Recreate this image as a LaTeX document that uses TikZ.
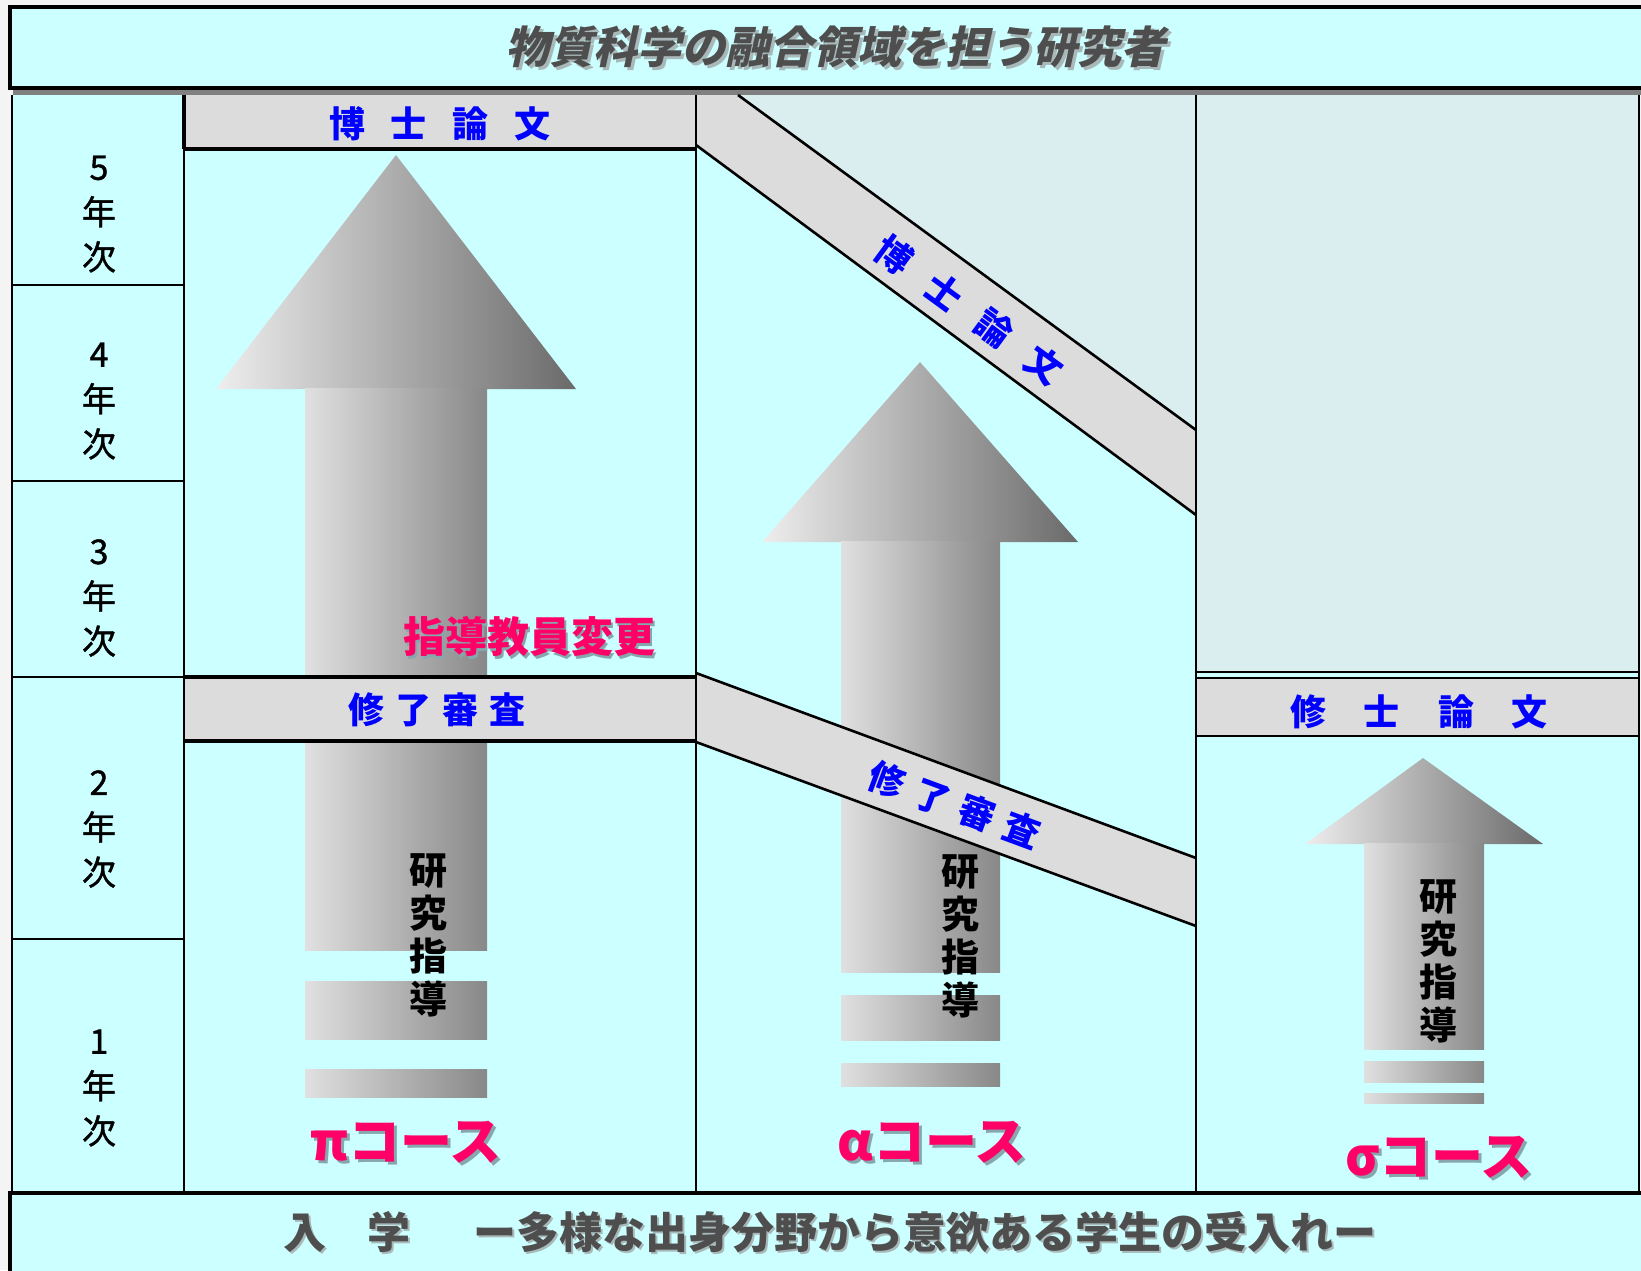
\documentclass[tikz,border=0pt]{standalone}
\usepackage{fontspec}
\newfontfamily\jp{Noto Sans CJK JP}
\newfontfamily\jpm{Noto Sans CJK JP}[FakeBold=1.2]
\newfontfamily\jpsl{Noto Sans CJK JP}[FakeSlant=0.22]
\definecolor{pagebg}{HTML}{F4F4F4}
\definecolor{cy}{HTML}{CCFFFF}
\definecolor{gcy}{HTML}{DAEDEF}
\definecolor{bandgray}{HTML}{DCDCDC}
\definecolor{pinktext}{HTML}{FF0066}
\definecolor{pinkshadow}{HTML}{86A7AE}
\definecolor{titlegray}{HTML}{4E4E4E}
\definecolor{titleshadow}{HTML}{A9B9BA}
\definecolor{bluetext}{HTML}{0000FF}
\definecolor{shadowband}{HTML}{808080}
\definecolor{headL}{HTML}{EEEEEE}
\definecolor{headR}{HTML}{6A6A6A}
\definecolor{shaftL}{HTML}{E0E0E0}
\definecolor{shaftR}{HTML}{888888}
\tikzset{
  frameline/.style={line width=2.6pt, draw=black},
  thickline/.style={line width=3.6pt, draw=black},
  headshade/.style={left color=headL, right color=headR},
  shaftshade/.style={left color=shaftL, right color=shaftR},
  yearlabel/.style={font=\jpm\fontsize{34}{45}\selectfont, align=center, inner sep=0pt, text=black},
  bluelabel/.style={font=\jp\bfseries\fontsize{36}{40}\selectfont, inner sep=0pt, text=bluetext},
  guidelabel/.style={font=\jp\bfseries\fontsize{38}{43}\selectfont, align=center, inner sep=0pt, text=black},
  pinklabel/.style={font=\jp\bfseries\fontsize{42}{46}\selectfont, inner sep=0pt, text=pinktext},
  pinkshadowlabel/.style={font=\jp\bfseries\fontsize{42}{46}\selectfont, inner sep=0pt, text=pinkshadow},
  courselabel/.style={font=\jp\bfseries\fontsize{52}{56}\selectfont, inner sep=0pt, text=pinktext},
  courseshadow/.style={font=\jp\bfseries\fontsize{52}{56}\selectfont, inner sep=0pt, text=pinkshadow},
  titlelabel/.style={font=\jpsl\bfseries\fontsize{44}{48}\selectfont, inner sep=0pt, text=titlegray},
  titleshadowlabel/.style={font=\jpsl\bfseries\fontsize{44}{48}\selectfont, inner sep=0pt, text=titleshadow},
  bottomlabel/.style={font=\jp\bfseries\fontsize{43}{47}\selectfont, inner sep=0pt, text=titlegray},
  bottomshadow/.style={font=\jp\bfseries\fontsize{43}{47}\selectfont, inner sep=0pt, text=titleshadow},
}
\begin{document}
\begin{tikzpicture}[x=1pt,y=-1pt]
\useasboundingbox (0,0) rectangle (1641,1270);
\fill[pagebg] (0,0) rectangle (1641,1270);

% title box
\fill[cy] (10,7) rectangle (1645,88);
\draw[thickline] (1645,7) -- (10,7) -- (10,88) -- (1645,88);
\fill[shadowband] (13,89.8) rectangle (1641,95);

% main area backgrounds
\fill[cy] (12,95) rectangle (1639,1193);
\fill[gcy] (738,95) -- (1196,95) -- (1196,430) -- cycle;
\fill[gcy] (1196,95) rectangle (1639,672);

% pi arrow
\shade[headshade] (216,389) -- (396,155) -- (576,389) -- cycle;
\shade[shaftshade] (305,388) rectangle (487,950);
\shade[shaftshade] (305,981) rectangle (487,1039);
\shade[shaftshade] (305,1069) rectangle (487,1097);

% alpha arrow
\shade[headshade] (762,542) -- (920,362) -- (1078,542) -- cycle;
\shade[shaftshade] (841,541) rectangle (1000,972);
\shade[shaftshade] (841,995) rectangle (1000,1040);
\shade[shaftshade] (841,1063) rectangle (1000,1086);

% sigma arrow
\shade[headshade] (1305,844) -- (1423,758) -- (1543,844) -- cycle;
\shade[shaftshade] (1364,843) rectangle (1484,1049);
\shade[shaftshade] (1364,1061) rectangle (1484,1082);
\shade[shaftshade] (1364,1093) rectangle (1484,1103);

% bands
\fill[bandgray] (184,95) rectangle (696,149);
\draw[thickline] (184,149) -- (696,149);
\fill[bandgray] (696,95) -- (738,95) -- (1196,430) -- (1196,515) -- (696,145) -- cycle;
\draw[frameline] (738,95) -- (1196,430);
\draw[frameline] (696,145) -- (1196,515);

\fill[bandgray] (184,677) rectangle (696,741);
\draw[thickline] (184,677) -- (696,677);
\draw[thickline] (184,741) -- (696,741);
\fill[bandgray] (696,673) -- (1196,858) -- (1196,926) -- (696,742) -- cycle;
\draw[frameline] (696,673) -- (1196,858);
\draw[frameline] (696,742) -- (1196,926);

\draw[frameline] (1196,672) -- (1639,672);
\fill[bandgray] (1196,678) rectangle (1639,736);
\draw[frameline] (1196,678) -- (1639,678);
\draw[frameline] (1196,736) -- (1639,736);

% year separators
\foreach \yy in {285,481,677,939} \draw[frameline] (12,\yy) -- (184,\yy);

% verticals
\draw[frameline] (12,95) -- (12,1193);
\draw[thickline] (184,95) -- (184,149);
\draw[frameline] (184,149) -- (184,1193);
\draw[frameline] (696,95) -- (696,1193);
\draw[frameline] (1196,95) -- (1196,1193);
\draw[frameline] (1639,95) -- (1639,1193);

% bottom box
\fill[cy] (10,1193) rectangle (1645,1275);
\draw[thickline] (10,1275) -- (10,1193) -- (1645,1193);

% texts
\node[titleshadowlabel] (titleS) at (838,50) {物質科学の融合領域を担う研究者};
\node[titlelabel] (title) at (835,47) {物質科学の融合領域を担う研究者};

\node[yearlabel] (y5) at (99,214) {5\\年\\次};
\node[yearlabel] (y4) at (99,401) {4\\年\\次};
\node[yearlabel] (y3) at (99,598) {3\\年\\次};
\node[yearlabel] (y2) at (99,829) {2\\年\\次};
\node[yearlabel] (y1) at (99,1088) {1\\年\\次};

\node[bluelabel] (piD) at (440,124) {博\hspace{26pt}士\hspace{26pt}論\hspace{26pt}文};
\node[bluelabel] (piS) at (437,710) {修\hspace{11pt}了\hspace{11pt}審\hspace{11pt}査};
\node[bluelabel] (sgM) at (1419,712) {修\hspace{38pt}士\hspace{38pt}論\hspace{38pt}文};
\node[bluelabel, rotate=-36.2] (alD) at (969,310) {博\hspace{26pt}士\hspace{26pt}論\hspace{26pt}文};
\node[bluelabel, rotate=-20.3] (alS) at (955,805) {修\hspace{12pt}了\hspace{12pt}審\hspace{12pt}査};

\node[guidelabel] (piG) at (428,935) {研\\究\\指\\導};
\node[guidelabel] (alG) at (960,936) {研\\究\\指\\導};
\node[guidelabel] (sgG) at (1438,961) {研\\究\\指\\導};

\node[pinkshadowlabel] (chgS) at (531.5,639.5) {指導教員変更};
\node[pinklabel] (chg) at (529,637) {指導教員変更};

\node[courseshadow] (piCS) at (409,1145) {πコース};
\node[courselabel] (piC) at (406,1142) {πコース};
\node[courseshadow] (alCS) at (935,1145) {αコース};
\node[courselabel] (alC) at (932,1142) {αコース};
\node[courseshadow] (sgCS) at (1442,1160) {σコース};
\node[courselabel] (sgC) at (1439,1157) {σコース};

\node[bottomshadow] (entS) at (832,1234) {入\hspace{41pt}学\hspace{63pt}ー多様な出身分野から意欲ある学生の受入れー};
\node[bottomlabel] (ent) at (830,1232) {入\hspace{41pt}学\hspace{63pt}ー多様な出身分野から意欲ある学生の受入れー};
\end{tikzpicture}
\end{document}
